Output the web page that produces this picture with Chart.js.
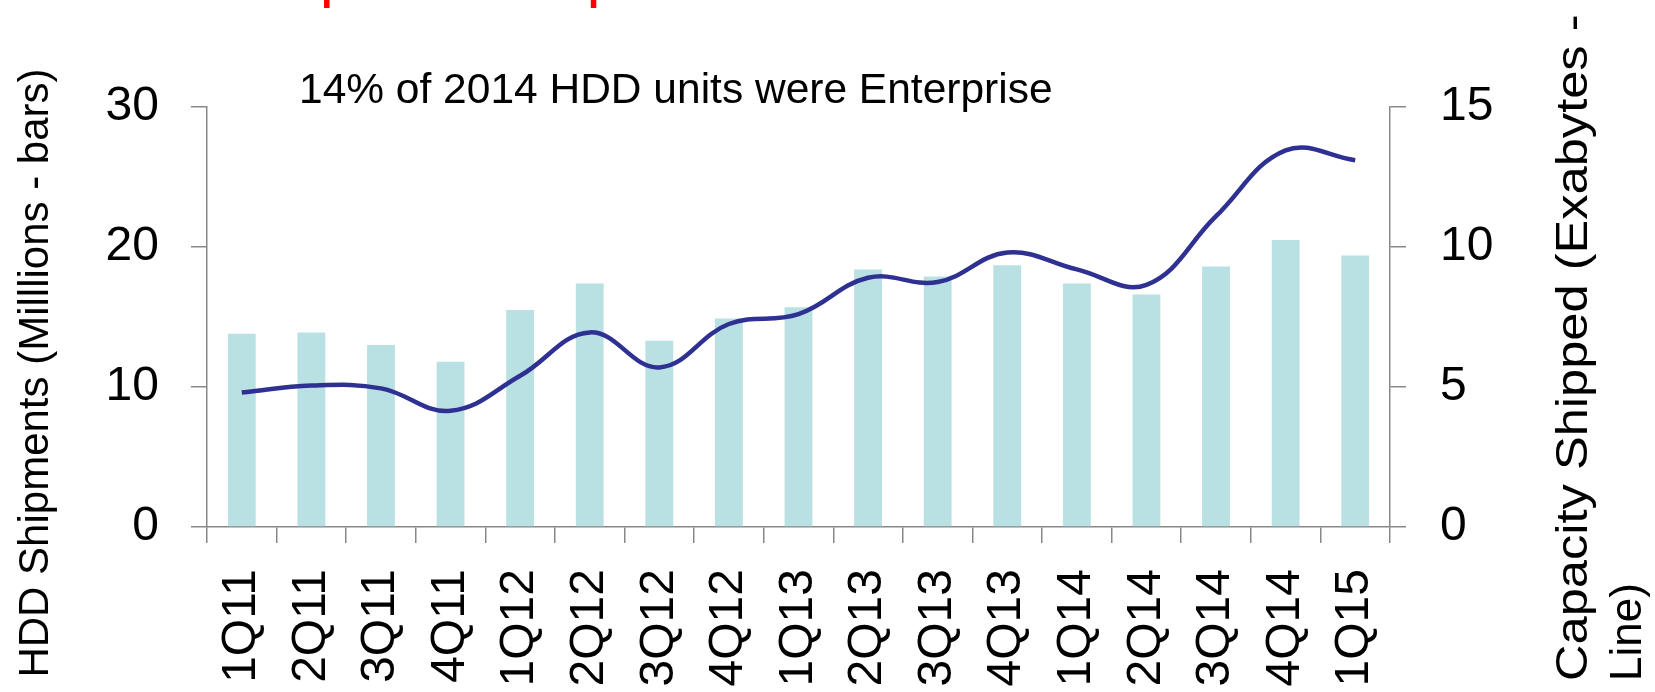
<!DOCTYPE html>
<html>
<head>
<meta charset="utf-8">
<script src="https://cdn.jsdelivr.net/npm/chart.js@4.4.1/dist/chart.umd.min.js"></script>
<style>
  html, body { margin: 0; padding: 0; background: #fff; }
  #wrap { width: 1655px; height: 692px; position: relative; }
</style>
</head>
<body>
<div id="wrap"><canvas id="c" width="1655" height="692"></canvas></div>
<script>
const categories = ['1Q11','2Q11','3Q11','4Q11','1Q12','2Q12','3Q12','4Q12','1Q13','2Q13','3Q13','4Q13','1Q14','2Q14','3Q14','4Q14','1Q15'];
const unitsMillions = [13.8,13.9,13.0,11.8,15.5,17.4,13.3,14.9,15.7,18.4,17.9,18.7,17.4,16.6,18.6,20.5,19.4];
const capacityExabytes = [4.8,5.05,4.95,4.15,5.4,6.95,5.7,7.25,7.6,8.9,8.75,9.8,9.2,8.65,11.1,13.45,13.1];
const leftTicks = [0,10,20,30];
const rightTicks = [0,5,10,15];
const leftTitle = 'HDD Shipments (Milllions - bars)';
const rightTitleLines = ['Capacity Shipped (Exabytes -', 'Line)'];
const annotation = '14% of 2014 HDD units were Enterprise';
const redTitle = 'Enterprise HDD Shipments';

const FONT = '"Liberation Sans", Arial, sans-serif';
const AXIS = '#888888';

const textPlugin = {
  id: 'texts',
  afterDraw(chart) {
    const ctx = chart.ctx;
    ctx.save();
    ctx.fillStyle = '#000';
    // left title
    ctx.save();
    ctx.font = '42px ' + FONT;
    ctx.translate(36, 373);
    ctx.rotate(-Math.PI / 2);
    ctx.textAlign = 'center';
    ctx.textBaseline = 'middle';
    ctx.fillText(leftTitle, 0, 0);
    ctx.restore();
    // right title (two lines, bottom aligned)
    ctx.font = '44px ' + FONT;
    const xs = [1575, 1629];
    const stretch = [1.15, 1.0];
    rightTitleLines.forEach((t, i) => {
      ctx.save();
      ctx.translate(xs[i], 681);
      ctx.rotate(-Math.PI / 2);
      ctx.scale(stretch[i], 1);
      ctx.textAlign = 'left';
      ctx.textBaseline = 'middle';
      ctx.fillText(t, 0, 0);
      ctx.restore();
    });
    // annotation
    ctx.font = '42.5px ' + FONT;
    ctx.textAlign = 'left';
    ctx.textBaseline = 'alphabetic';
    ctx.fillText(annotation, 299, 103);
    // red cut-off title (only descenders visible)
    ctx.fillStyle = '#FF0000';
    ctx.font = 'bold 40px ' + FONT;
    ctx.fillText(redTitle, 219, 0);
    ctx.restore();
  }
};

new Chart(document.getElementById('c'), {
  data: {
    labels: categories,
    datasets: [
      {
        type: 'line',
        data: capacityExabytes,
        yAxisID: 'y1',
        borderColor: '#2E3192',
        borderWidth: 4.5,
        pointRadius: 0,
        tension: 0.4,
        fill: false,
        order: 0
      },
      {
        type: 'bar',
        data: unitsMillions,
        yAxisID: 'y',
        backgroundColor: '#B9E0E3',
        barPercentage: 0.4,
        categoryPercentage: 1.0,
        order: 1
      }
    ]
  },
  options: {
    responsive: false,
    animation: false,
    devicePixelRatio: 1,
    layout: { padding: { top: 107, left: 0, right: 0, bottom: 0 } },
    plugins: { legend: { display: false }, tooltip: { enabled: false }, title: { display: false } },
    scales: {
      x: {
        offset: true,
        grid: { offset: true, drawOnChartArea: false, drawTicks: true, tickLength: 16, color: AXIS, lineWidth: 1.5 },
        border: { display: true, color: AXIS, width: 1.5 },
        ticks: { autoSkip: false, maxRotation: 90, minRotation: 90, padding: 26, color: '#000', font: { family: FONT, size: 48 } },
        afterFit(s) { s.height = 165; }
      },
      y: {
        position: 'left',
        min: 0, max: 30,
        afterBuildTicks(s) { s.ticks = leftTicks.map(v => ({ value: v })); },
        grid: { drawOnChartArea: false, drawTicks: true, tickLength: 16, color: AXIS, lineWidth: 1.5 },
        border: { display: true, color: AXIS, width: 1.5 },
        ticks: { padding: 32, color: '#000', font: { family: FONT, size: 48 } },
        afterFit(s) { s.width = 207; }
      },
      y1: {
        position: 'right',
        min: 0, max: 15,
        afterBuildTicks(s) { s.ticks = rightTicks.map(v => ({ value: v })); },
        grid: { drawOnChartArea: false, drawTicks: true, tickLength: 16, color: AXIS, lineWidth: 1.5 },
        border: { display: true, color: AXIS, width: 1.5 },
        ticks: { padding: 34, color: '#000', font: { family: FONT, size: 48 } },
        afterFit(s) { s.width = 265; }
      }
    }
  },
  plugins: [textPlugin]
});
</script>
</body>
</html>
